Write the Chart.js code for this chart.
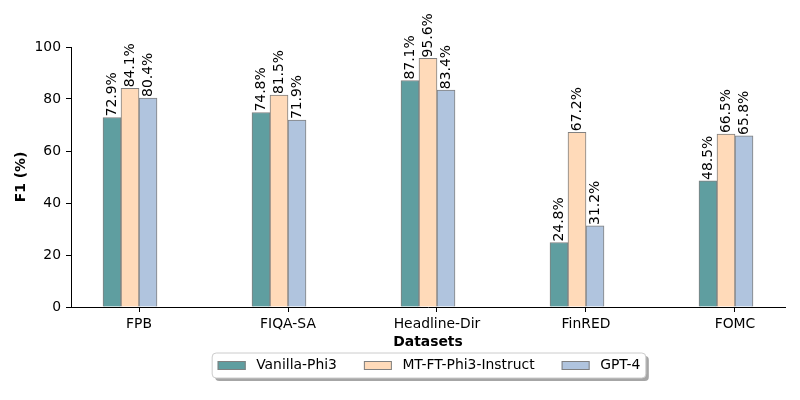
<!DOCTYPE html>
<html>
<head>
<meta charset="utf-8">
<script src="https://cdn.jsdelivr.net/npm/chart.js@4/dist/chart.umd.min.js"></script>
<style>
html,body{margin:0;padding:0;background:#fff;}
canvas{display:block;}
</style>
</head>
<body>
<canvas id="c" width="800" height="400"></canvas>
<script>
const categories = ['FPB', 'FIQA-SA', 'Headline-Dir', 'FinRED', 'FOMC'];
const seriesNames = ['Vanilla-Phi3', 'MT-FT-Phi3-Instruct', 'GPT-4'];
const vanillaPhi3 = [72.9, 74.8, 87.1, 24.8, 48.5];
const mtftPhi3 = [84.1, 81.5, 95.6, 67.2, 66.5];
const gpt4 = [80.4, 71.9, 83.4, 31.2, 65.8];
const yTicks = [0, 20, 40, 60, 80, 100];
const colors = ['#5F9EA0', '#FFDAB9', '#B0C4DE'];

const FONT = 'DejaVu Sans';
const FS = 13.9;

function toPoints(arr){ return arr.map((v,i)=>({x:i, y:v})); }

const valueLabels = {
  id:'valueLabels',
  afterDatasetsDraw(chart){
    const ctx = chart.ctx;
    ctx.save();
    ctx.font = FS + 'px "' + FONT + '"';
    ctx.fillStyle = '#000';
    ctx.textAlign = 'left';
    ctx.textBaseline = 'middle';
    chart.data.datasets.forEach((ds, di)=>{
      const meta = chart.getDatasetMeta(di);
      meta.data.forEach((bar, i)=>{
        const v = ds.data[i].y;
        ctx.save();
        ctx.translate(bar.x, bar.y - 1);
        ctx.rotate(-Math.PI/2);
        ctx.fillText(v.toFixed(1) + '%', 0, 0);
        ctx.restore();
      });
    });
    ctx.restore();
  }
};

const customLegend = {
  id:'customLegend',
  afterDraw(chart){
    const ctx = chart.ctx;
    ctx.save();
    ctx.font = FS + 'px "' + FONT + '"';
    const pad = 5.5, handleW = 28, handleH = 9, gapText = 10.5, colSpace = 27;
    const widths = seriesNames.map(n=>ctx.measureText(n).width);
    let total = 2*pad + seriesNames.length*(handleW+gapText) + widths.reduce((a,b)=>a+b,0) + (seriesNames.length-1)*colSpace;
    const ca = chart.chartArea;
    const cx = (ca.left + ca.right)/2 + 1;
    const x0 = cx - total/2;
    const y0 = 353, h = 25;
    function rr(x,y,w,hh,r){
      ctx.beginPath();
      ctx.moveTo(x+r,y);
      ctx.lineTo(x+w-r,y); ctx.quadraticCurveTo(x+w,y,x+w,y+r);
      ctx.lineTo(x+w,y+hh-r); ctx.quadraticCurveTo(x+w,y+hh,x+w-r,y+hh);
      ctx.lineTo(x+r,y+hh); ctx.quadraticCurveTo(x,y+hh,x,y+hh-r);
      ctx.lineTo(x,y+r); ctx.quadraticCurveTo(x,y,x+r,y);
      ctx.closePath();
    }
    rr(x0+3, y0+3, total, h, 4);
    ctx.fillStyle = 'rgba(77,77,77,0.5)';
    ctx.fill();
    rr(x0, y0, total, h, 4);
    ctx.fillStyle = '#ffffff';
    ctx.fill();
    ctx.strokeStyle = '#cccccc';
    ctx.lineWidth = 1;
    ctx.stroke();
    let x = x0 + pad;
    const cy = y0 + h/2;
    ctx.textAlign = 'left';
    ctx.textBaseline = 'middle';
    seriesNames.forEach((n, i)=>{
      ctx.fillStyle = colors[i];
      ctx.fillRect(x, cy - handleH/2, handleW, handleH);
      ctx.strokeStyle = '#808080';
      ctx.strokeRect(x+0.5, cy - handleH/2 + 0.5, handleW-1, handleH-1);
      x += handleW + gapText;
      ctx.fillStyle = '#000';
      ctx.fillText(n, x, cy);
      x += widths[i] + colSpace;
    });
    ctx.restore();
  }
};

const datasets = [vanillaPhi3, mtftPhi3, gpt4].map((arr, i)=>({
  label: seriesNames[i],
  data: toPoints(arr),
  backgroundColor: colors[i],
  borderColor: '#808080',
  borderWidth: 1,
  barThickness: 18
}));

new Chart(document.getElementById('c'), {
  type: 'bar',
  data: { datasets },
  options: {
    responsive: false,
    animation: false,
    devicePixelRatio: 1,
    layout: { padding: { top: 47, right: 15, left: 0, bottom: 0 } },
    plugins: { legend: { display: false }, tooltip: { enabled: false } },
    scales: {
      x: {
        type: 'linear',
        min: -0.396,
        max: 4.396,
        offset: false,
        afterBuildTicks(scale){
          scale.ticks = categories.map((c,i)=>({ value: i + 0.0604 }));
        },
        afterFit(scale){ scale.height = 93; },
        ticks: {
          autoSkip: false,
          maxRotation: 0,
          padding: 4,
          color: '#000',
          font: { family: FONT, size: FS },
          callback: (v, idx)=>categories[idx]
        },
        grid: { offset: false, drawOnChartArea: false, drawTicks: true, tickLength: 5, color: '#000' },
        border: { display: true, color: '#000', width: 1 },
        title: {
          display: true,
          text: 'Datasets',
          color: '#000',
          font: { family: FONT, size: FS, weight: 'bold' },
          padding: { top: 0, bottom: 49 }
        }
      },
      y: {
        min: 0,
        max: 100,
        afterBuildTicks(scale){
          scale.ticks = yTicks.map(v=>({ value: v }));
        },
        afterFit(scale){ scale.width = 71; },
        ticks: {
          padding: 5,
          color: '#000',
          font: { family: FONT, size: FS }
        },
        grid: { drawOnChartArea: false, drawTicks: true, tickLength: 5, color: '#000' },
        border: { display: true, color: '#000', width: 1 },
        title: {
          display: true,
          text: 'F1 (%)',
          color: '#000',
          font: { family: FONT, size: FS, weight: 'bold' },
          padding: { top: 13, bottom: 0 }
        }
      }
    }
  },
  plugins: [valueLabels, customLegend]
});
</script>
</body>
</html>
